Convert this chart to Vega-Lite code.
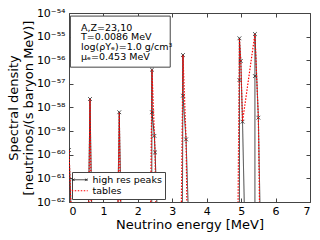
{
  "$schema": "https://vega.github.io/schema/vega-lite/v6.json",
  "width": 241,
  "height": 189,
  "autosize": {"type": "none"},
  "padding": {"left": 69, "top": 13, "right": 10, "bottom": 38},
  "background": "white",
  "config": {
    "font": "DejaVu Sans",
    "view": {"stroke": "#444", "strokeWidth": 1},
    "axis": {"grid": false, "domain": false, "tickColor": "#444", "labelColor": "black", "titleColor": "black", "titleFontWeight": "normal"}
  },
  "datasets": {
    "spectra": [
      {"series": "high res peaks", "i": 0, "E": 0.0, "v": 1.58e-60},
      {"series": "high res peaks", "i": 1, "E": 0.1, "v": 1e-64},
      {"series": "high res peaks", "i": 2, "E": 0.55, "v": 1e-64},
      {"series": "high res peaks", "i": 3, "E": 0.61, "v": 2.29e-58},
      {"series": "high res peaks", "i": 4, "E": 0.68, "v": 1e-64},
      {"series": "high res peaks", "i": 5, "E": 1.40, "v": 1e-64},
      {"series": "high res peaks", "i": 6, "E": 1.46, "v": 6.3e-59},
      {"series": "high res peaks", "i": 7, "E": 1.53, "v": 1e-64},
      {"series": "high res peaks", "i": 8, "E": 2.40, "v": 1e-64},
      {"series": "high res peaks", "i": 9, "E": 2.41, "v": 3.98e-57},
      {"series": "high res peaks", "i": 10, "E": 2.41, "v": 6.3e-59},
      {"series": "high res peaks", "i": 11, "E": 2.48, "v": 6.3e-60},
      {"series": "high res peaks", "i": 12, "E": 2.50, "v": 1.26e-60},
      {"series": "high res peaks", "i": 13, "E": 2.60, "v": 1e-64},
      {"series": "high res peaks", "i": 14, "E": 3.29, "v": 1e-64},
      {"series": "high res peaks", "i": 15, "E": 3.31, "v": 1.66e-56},
      {"series": "high res peaks", "i": 16, "E": 3.31, "v": 3.16e-58},
      {"series": "high res peaks", "i": 17, "E": 3.40, "v": 4.47e-60},
      {"series": "high res peaks", "i": 18, "E": 3.50, "v": 1e-64},
      {"series": "high res peaks", "i": 19, "E": 4.95, "v": 1e-64},
      {"series": "high res peaks", "i": 20, "E": 4.95, "v": 1.45e-57},
      {"series": "high res peaks", "i": 21, "E": 4.95, "v": 8.5e-56},
      {"series": "high res peaks", "i": 22, "E": 4.99, "v": 9.3e-57},
      {"series": "high res peaks", "i": 23, "E": 5.04, "v": 2.5e-59},
      {"series": "high res peaks", "i": 24, "E": 5.12, "v": 1e-64},
      {"series": "high res peaks", "i": 25, "E": 5.40, "v": 1e-64},
      {"series": "high res peaks", "i": 26, "E": 5.40, "v": 2.14e-57},
      {"series": "high res peaks", "i": 27, "E": 5.40, "v": 1.29e-55},
      {"series": "high res peaks", "i": 28, "E": 5.50, "v": 3.7e-59},
      {"series": "high res peaks", "i": 29, "E": 5.57, "v": 1e-64},
      {"series": "tables", "i": 0, "E": 0.0, "v": 1.58e-60},
      {"series": "tables", "i": 1, "E": 0.1, "v": 1e-64},
      {"series": "tables", "i": 2, "E": 0.56, "v": 1e-64},
      {"series": "tables", "i": 3, "E": 0.61, "v": 2.29e-58},
      {"series": "tables", "i": 4, "E": 0.66, "v": 1e-64},
      {"series": "tables", "i": 5, "E": 1.41, "v": 1e-64},
      {"series": "tables", "i": 6, "E": 1.46, "v": 6.3e-59},
      {"series": "tables", "i": 7, "E": 1.51, "v": 1e-64},
      {"series": "tables", "i": 8, "E": 2.36, "v": 1e-64},
      {"series": "tables", "i": 9, "E": 2.41, "v": 3.98e-57},
      {"series": "tables", "i": 10, "E": 2.50, "v": 1.26e-60},
      {"series": "tables", "i": 11, "E": 2.53, "v": 1e-64},
      {"series": "tables", "i": 12, "E": 3.25, "v": 1e-64},
      {"series": "tables", "i": 13, "E": 3.31, "v": 1.66e-56},
      {"series": "tables", "i": 14, "E": 3.40, "v": 4.47e-60},
      {"series": "tables", "i": 15, "E": 3.44, "v": 1e-64},
      {"series": "tables", "i": 16, "E": 4.90, "v": 1e-64},
      {"series": "tables", "i": 17, "E": 4.95, "v": 8.5e-56},
      {"series": "tables", "i": 18, "E": 4.99, "v": 9.3e-57},
      {"series": "tables", "i": 19, "E": 5.04, "v": 2.5e-59},
      {"series": "tables", "i": 20, "E": 5.40, "v": 1.29e-55},
      {"series": "tables", "i": 21, "E": 5.50, "v": 3.7e-59},
      {"series": "tables", "i": 22, "E": 5.55, "v": 1e-64}
    ],
    "one": [{"k": 1}]
  },
  "resolve": {"axis": {"x": "independent", "y": "independent"}},
  "layer": [
    {
      "data": {"name": "spectra"},
      "transform": [{"filter": "datum.series == 'high res peaks'"}],
      "mark": {"type": "line", "clip": true, "strokeWidth": 0.9},
      "encoding": {
        "x": {"field": "E", "type": "quantitative", "scale": {"domain": [0, 7], "nice": false, "zero": false},
          "axis": {"orient": "bottom", "values": [0, 1, 2, 3, 4, 5, 6, 7], "tickSize": -4, "labelPadding": 7, "labelFontSize": 11, "title": "Neutrino energy [MeV]", "titleFontSize": 13, "titlePadding": 2}},
        "y": {"field": "v", "type": "quantitative", "scale": {"type": "log", "domain": [1e-62, 1e-54], "nice": false},
          "axis": {"orient": "left", "values": [1e-62, 1e-61, 1e-60, 1e-59, 1e-58, 1e-57, 1e-56, 1e-55, 1e-54], "tickSize": -4, "labelPadding": 8, "labelFontSize": 11,
            "labelExpr": "'10⁻' + (round(-log(datum.value)/LN10) >= 60 ? '⁶' : '⁵') + ['⁰','¹','²','³','⁴','⁵','⁶','⁷','⁸','⁹'][round(-log(datum.value)/LN10) % 10]",
            "title": ["Spectral density", "[neutrinos/(s baryon MeV)]"], "titleFontSize": 13, "titleLineHeight": 15, "titlePadding": 1}},
        "order": {"field": "i", "type": "quantitative"},
        "color": {"field": "series", "type": "nominal", "scale": {"domain": ["high res peaks", "tables"], "range": ["#222222", "#ff0000"]},
          "legend": {"title": null, "orient": "bottom-left", "offset": 3, "fillColor": "white", "strokeColor": "#444", "padding": 3, "rowPadding": 0, "labelFontSize": 9.5, "symbolSize": 256, "symbolStrokeWidth": 1, "labelOffset": 8, "labelLimit": 200,
            "encode": {"symbols": {"update": {
              "shape": {"signal": "datum.label == 'high res peaks' ? 'M-1,0H1M-0.95,-0.15L-0.65,0.15M-0.95,0.15L-0.65,-0.15M0.65,-0.15L0.95,0.15M0.65,0.15L0.95,-0.15' : 'M-1,0H1'"},
              "stroke": {"signal": "datum.label == 'tables' ? '#ff0000' : '#222222'"},
              "strokeDash": {"signal": "datum.label == 'tables' ? [1.5, 1.5] : [1, 0]"},
              "strokeWidth": {"signal": "datum.label == 'tables' ? 1.2 : 0.9"}
            }}}}},
        "strokeDash": {"field": "series", "type": "nominal", "scale": {"domain": ["high res peaks", "tables"], "range": [[1, 0], [1.5, 1.5]]}, "legend": null}
      }
    },
    {
      "data": {"name": "spectra"},
      "transform": [{"filter": "datum.series == 'high res peaks'"}],
      "mark": {"type": "point", "clip": true, "shape": "M-1,-1L1,1M1,-1L-1,1", "filled": false, "size": 14, "strokeWidth": 0.8, "color": "#222222", "opacity": 1},
      "encoding": {
        "x": {"field": "E", "type": "quantitative", "axis": {"orient": "top", "values": [0, 1, 2, 3, 4, 5, 6, 7], "tickSize": -4, "labels": false, "title": null}},
        "y": {"field": "v", "type": "quantitative", "axis": {"orient": "right", "values": [1e-62, 1e-61, 1e-60, 1e-59, 1e-58, 1e-57, 1e-56, 1e-55, 1e-54], "tickSize": -4, "labels": false, "title": null}}
      }
    },
    {
      "data": {"name": "spectra"},
      "transform": [{"filter": "datum.series == 'tables'"}],
      "mark": {"type": "line", "clip": true, "strokeWidth": 1.2},
      "encoding": {
        "x": {"field": "E", "type": "quantitative", "axis": null},
        "y": {"field": "v", "type": "quantitative", "axis": null},
        "order": {"field": "i", "type": "quantitative"},
        "color": {"field": "series", "type": "nominal"},
        "strokeDash": {"field": "series", "type": "nominal", "legend": null}
      }
    },
    {
      "data": {"name": "one"},
      "mark": {"type": "rect", "fill": "white", "stroke": "#444", "strokeWidth": 1},
      "encoding": {
        "x": {"datum": 0.04, "type": "quantitative", "axis": null},
        "x2": {"datum": 2.94},
        "y": {"datum": 7.4e-55, "type": "quantitative", "axis": null},
        "y2": {"datum": 5.1e-57}
      }
    },
    {
      "data": {"name": "one"},
      "mark": {"type": "text", "align": "left", "baseline": "top", "fontSize": 9.5, "lineHeight": 9.8, "fill": "black"},
      "encoding": {
        "x": {"datum": 0.35, "type": "quantitative", "axis": null},
        "y": {"datum": 3.9e-55, "type": "quantitative", "axis": null},
        "text": {"value": ["A,Z=23,10", "T=0.0086 MeV", "log(ρYₑ)=1.0 g/cm³", "μₑ=0.453 MeV"]}
      }
    }
  ]
}
